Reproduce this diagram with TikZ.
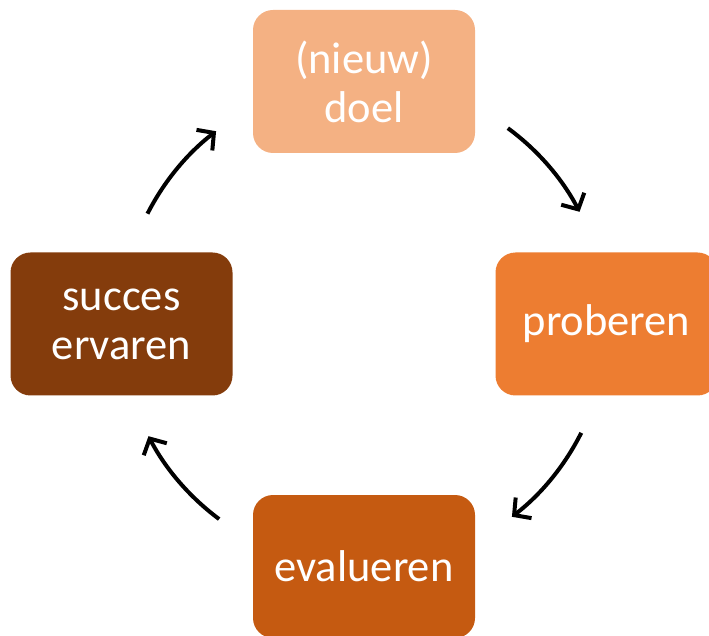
\documentclass[tikz,border=0pt]{standalone}
\usepackage{fontspec}
\setmainfont{Carlito}
\usetikzlibrary{arrows.meta}
\definecolor{cTop}{HTML}{F4B183}
\definecolor{cRight}{HTML}{ED7D31}
\definecolor{cBottom}{HTML}{C55A11}
\definecolor{cLeft}{HTML}{843C0C}
\begin{document}
\begin{tikzpicture}[x=1pt,y=1pt,
  stage/.style={rounded corners=20pt, minimum width=222pt, minimum height=143pt,
    inner sep=0pt, text=white, align=center,
    font=\fontsize{44.5}{49}\selectfont},
  cyclearrow/.style={line width=4pt, -{Straight Barb[length=12pt,width=26pt,line width=4pt]}}]
\useasboundingbox (0,0) rectangle (709,635);
\clip (0,0) rectangle (709,635);
\coordinate (c) at (364,311);
\node[stage, fill=cTop] (doel) at (364,553.5) {(nieuw)\\doel};
\node[stage, fill=cRight] (proberen) at (606.5,311) {proberen};
\node[stage, fill=cBottom] (evalueren) at (364,68.5) {evalueren};
\node[stage, fill=cLeft] (succes) at (121.5,311) {succes\\ervaren};
\coordinate (a1) at ([shift={(53.7:243)}]c);
\coordinate (a2) at ([shift={(-26.6:243)}]c);
\coordinate (a3) at ([shift={(-126.6:243)}]c);
\coordinate (a4) at ([shift={(153:243)}]c);
\draw[cyclearrow] (a1) arc[start angle=53.7, end angle=27.5, radius=243];
\draw[cyclearrow] (a2) arc[start angle=-26.6, end angle=-52.5, radius=243];
\draw[cyclearrow] (a3) arc[start angle=-126.6, end angle=-152.5, radius=243];
\draw[cyclearrow] (a4) arc[start angle=153, end angle=127.5, radius=243];
\end{tikzpicture}
\end{document}
